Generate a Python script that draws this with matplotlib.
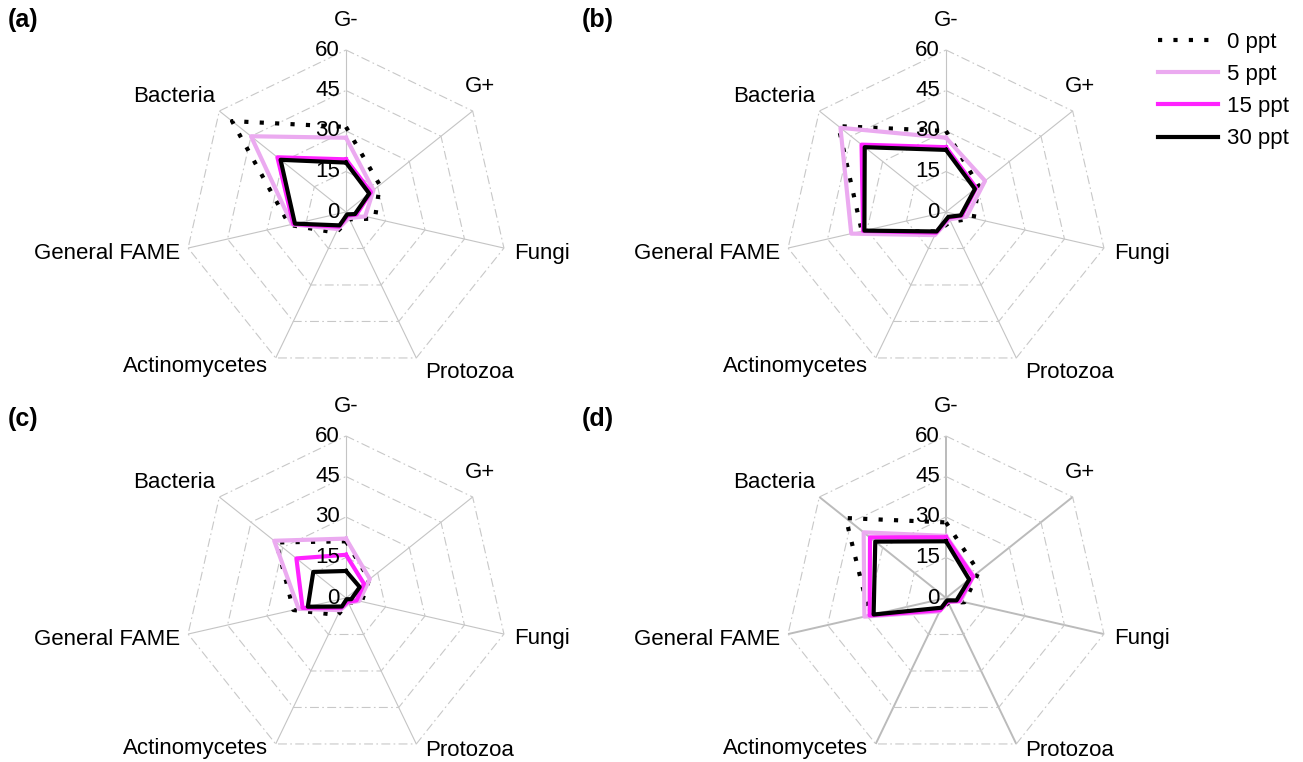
import numpy as np
import matplotlib
matplotlib.use("Agg")
import matplotlib.pyplot as plt

plt.rcParams['font.family'] = ['Liberation Sans', 'DejaVu Sans']

categories = ["G-", "G+", "Fungi", "Protozoa", "Actinomycetes", "General FAME", "Bacteria"]
series_labels = ["0 ppt", "5 ppt", "15 ppt", "30 ppt"]
panel_tags = ["(a)", "(b)", "(c)", "(d)"]
radial_ticks = [0, 15, 30, 45, 60]

# Relative abundance (%) per group, ordered as in `categories`
a_0ppt = [31.5, 16, 11, 3, 8.5, 21.5, 54]
a_5ppt = [27.5, 13, 7.3, 2.5, 7, 20.5, 45]
a_15ppt = [19.5, 11.8, 4, 1.5, 6, 20, 32.5]
a_30ppt = [18.3, 11, 3.4, 1, 5.5, 19.4, 31]

b_0ppt = [30, 15.5, 10.5, 4, 8, 32, 51]
b_5ppt = [27.5, 18.5, 7.8, 3, 9.5, 36, 50]
b_15ppt = [24, 14.3, 6, 2.3, 8.5, 31.5, 40]
b_30ppt = [23, 13.7, 5.6, 2, 8, 31, 38.5]

c_0ppt = [21, 11, 6, 2, 7, 20, 33]
c_5ppt = [22, 11.3, 5, 2, 5, 18, 34]
c_15ppt = [16, 8.5, 4, 1.5, 4, 16.5, 23.5]
c_30ppt = [10, 6.5, 2, 0.5, 3.5, 14.5, 15.5]

d_0ppt = [28, 15.5, 7, 2, 5, 29, 47.5]
d_5ppt = [23, 13, 5.5, 1.5, 5.5, 31, 39]
d_15ppt = [22.5, 12.8, 5, 1.5, 5, 29, 36]
d_30ppt = [21, 11, 4, 1, 4, 27.5, 33.5]

panels = [
    [a_0ppt, a_5ppt, a_15ppt, a_30ppt],
    [b_0ppt, b_5ppt, b_15ppt, b_30ppt],
    [c_0ppt, c_5ppt, c_15ppt, c_30ppt],
    [d_0ppt, d_5ppt, d_15ppt, d_30ppt],
]

W, H = 1303, 762
DPI = 100
PX = 2.7          # pixels per data unit
L = 75            # half-width of each panel's data window
RMAX = 60
PT = 72.0 / DPI   # pixel -> point

series_styles = [
    dict(color='black', lw=3.0, dashes=(1, 2.7), dash_capstyle='butt'),
    dict(color='#EBAAF0', lw=3.0),
    dict(color='#FF22FF', lw=3.0),
    dict(color='black', lw=3.0),
]
draw_order = [1, 2, 3, 0]

panel_centers = [(346, 212), (946, 212), (346, 598), (946, 598)]
tag_positions = [(23, 20), (598, 20), (23, 419), (598, 419)]

# label placement around the outer ring: (dx px, dy px up, ha)
label_offsets_top = [
    (0, 30, 'center'),
    (7, 24, 'center'),
    (10, -5, 'left'),
    (9, -15, 'left'),
    (-8, -9, 'right'),
    (-8, -5, 'right'),
    (-4, 14, 'right'),
]
label_offsets_bottom = [
    (0, 30, 'center'),
    (7, 24, 'center'),
    (10, -4, 'left'),
    (9, -7, 'left'),
    (-8, -5, 'right'),
    (-8, -5, 'right'),
    (-4, 14, 'right'),
]

n = len(categories)
theta = 2 * np.pi * np.arange(n) / n


def to_xy(r):
    r = np.asarray(r, dtype=float)
    return r * np.sin(theta), r * np.cos(theta)


fig = plt.figure(figsize=(W / DPI, H / DPI), dpi=DPI)

handles = None
for p, (vals, (cx, cy)) in enumerate(zip(panels, panel_centers)):
    size = 2 * L * PX
    ax = fig.add_axes([(cx - L * PX) / W, 1 - (cy + L * PX) / H, size / W, size / H])
    ax.set_xlim(-L, L)
    ax.set_ylim(-L, L)
    ax.set_axis_off()

    spoke_lw = 1.4 if p == 3 else 0.8
    spoke_col = '#BBBBBB' if p == 3 else '#C4C4C4'
    for t in theta:
        ax.plot([0, RMAX * np.sin(t)], [0, RMAX * np.cos(t)], color=spoke_col,
                lw=spoke_lw, zorder=1, solid_capstyle='butt')
    for r in radial_ticks[1:]:
        x, y = to_xy([r] * n)
        ax.plot(np.append(x, x[0]), np.append(y, y[0]), color='#C8C8C8', lw=0.8,
                dashes=(8, 3, 1.5, 3), zorder=1)

    lines = {}
    for k in draw_order:
        x, y = to_xy(vals[k])
        ln, = ax.plot(np.append(x, x[0]), np.append(y, y[0]), zorder=3 + k,
                      label=series_labels[k], **series_styles[k])
        lines[k] = ln
    if handles is None:
        handles = [lines[k] for k in range(4)]

    for t in radial_ticks:
        ax.annotate(str(t), xy=(0, t), xytext=(-6 * PT, 0), textcoords='offset points',
                    ha='right', va='center', fontsize=16, zorder=10)

    offsets = label_offsets_top if p < 2 else label_offsets_bottom
    vx, vy = to_xy([RMAX] * n)
    for i, cat in enumerate(categories):
        dx, dy, ha = offsets[i]
        ax.annotate(cat, xy=(vx[i], vy[i]), xytext=(dx * PT, dy * PT),
                    textcoords='offset points', ha=ha, va='center', fontsize=16)

    tx, ty = tag_positions[p]
    fig.text(tx / W, 1 - ty / H, panel_tags[p], fontsize=18, fontweight='bold',
             ha='center', va='center')

fig.legend(handles, series_labels, loc='upper left',
           bbox_to_anchor=(1158 / W, 1 - 32 / H), frameon=False, fontsize=16,
           handlelength=2.7, handletextpad=0.4, labelspacing=0.5,
           borderaxespad=0, borderpad=0)

fig.savefig('out.png', dpi=DPI)
